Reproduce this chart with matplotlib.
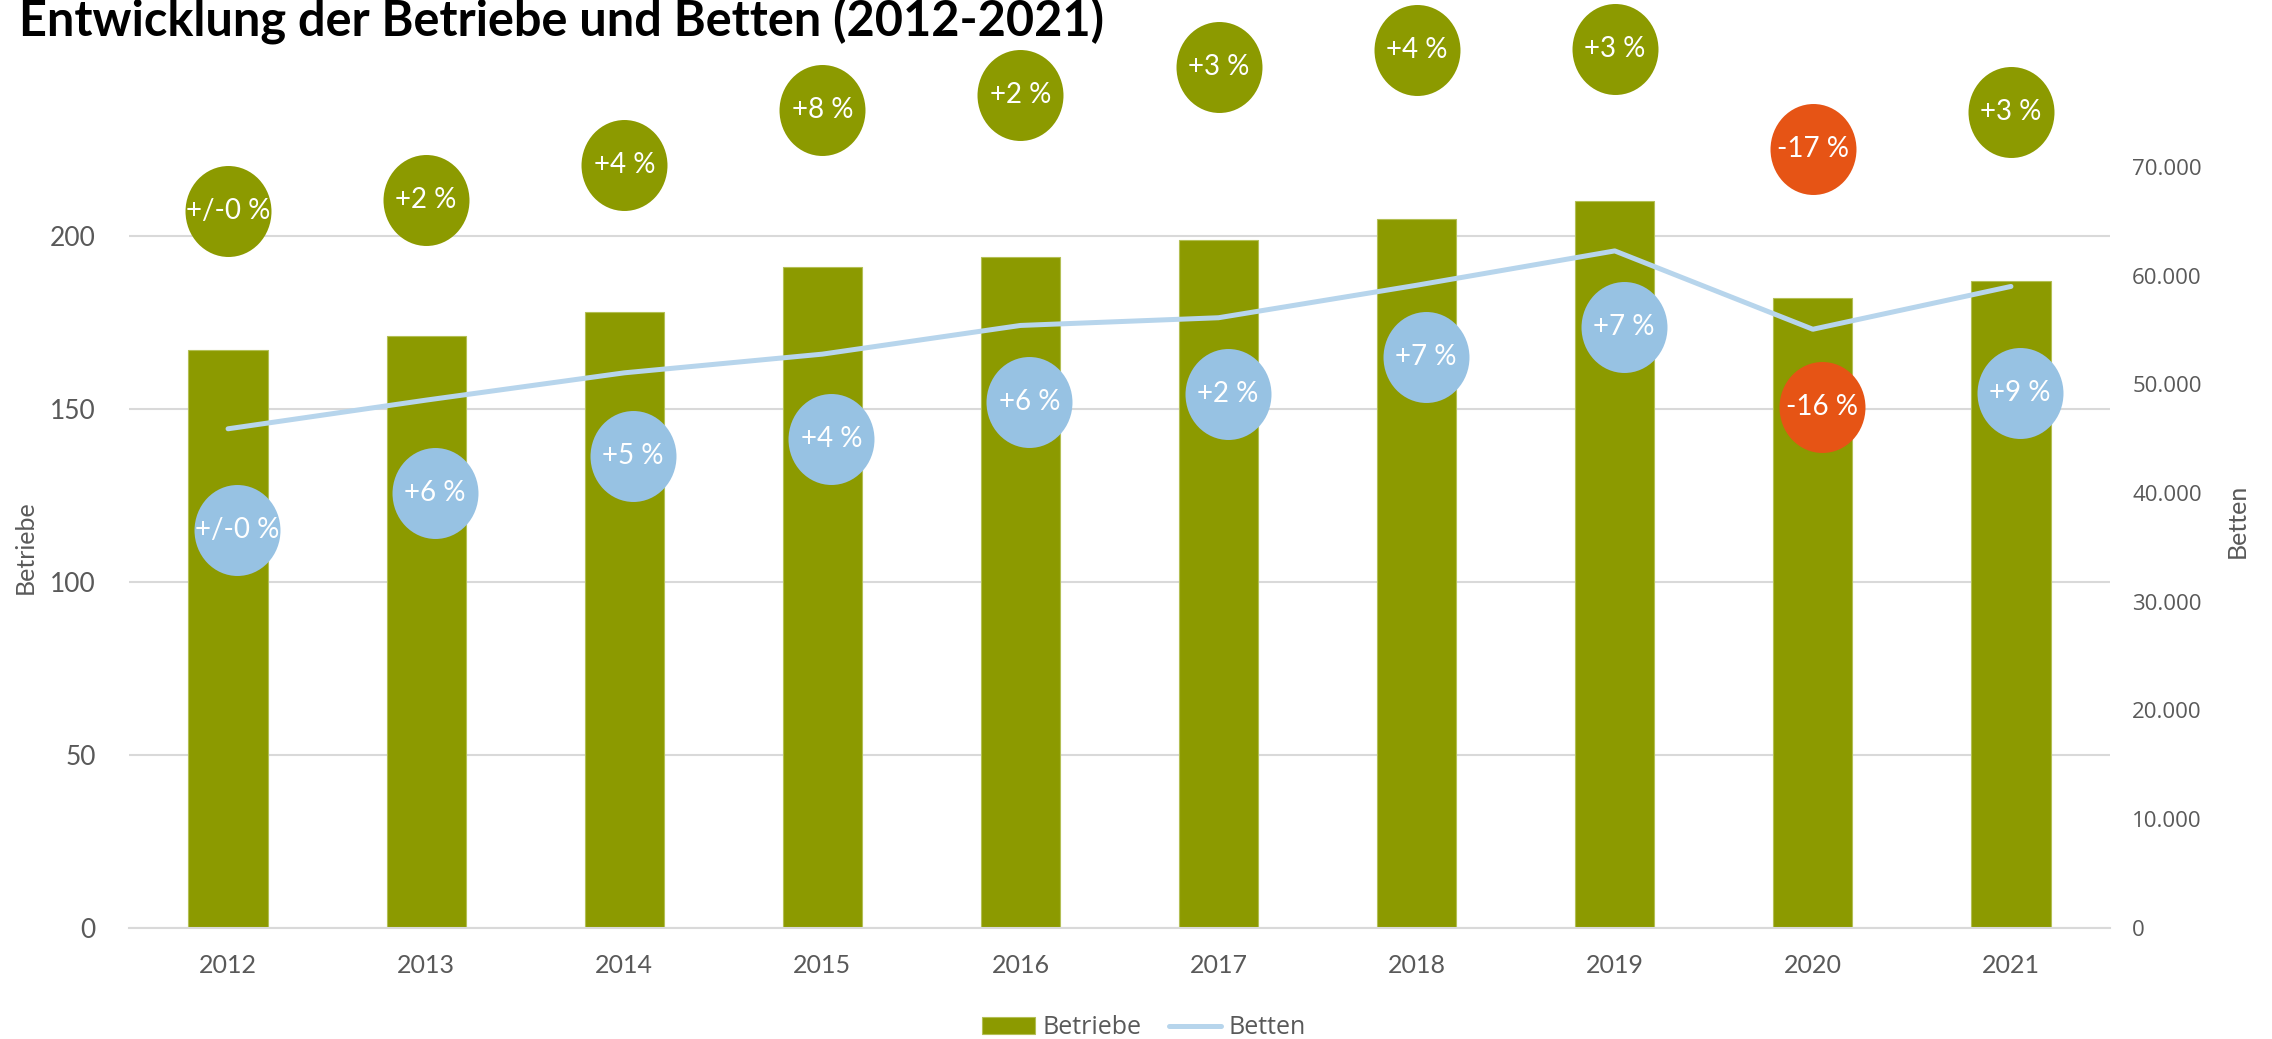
import matplotlib
matplotlib.use("Agg")
import matplotlib.pyplot as plt
import numpy as np
from matplotlib.path import Path
from matplotlib.transforms import offset_copy
from matplotlib.ticker import FuncFormatter

# data
years = ["2012", "2013", "2014", "2015", "2016", "2017", "2018", "2019", "2020", "2021"]
betriebe = [167, 171, 178, 191, 194, 199, 205, 210, 182, 187]
betten = [45900, 48540, 51050, 52770, 55410, 56120, 59110, 62270, 55060, 59000]
betriebe_pct = ["+/-0 %", "+2 %", "+4 %", "+8 %", "+2 %", "+3 %", "+4 %", "+3 %", "-17 %", "+3 %"]
betten_pct = ["+/-0 %", "+6 %", "+5 %", "+4 %", "+6 %", "+2 %", "+7 %", "+7 %", "-16 %", "+9 %"]

# label bubble offsets from their data point, in pixels
green_dy = [139, 136, 147, 157, 162, 173, 169, 152, 149, 169]
blue_dy = [-101, -93, -83, -85, -77, -76, -72, -76, -78, -107]

GREEN = "#8c9a00"
LINE_BLUE = "#b7d5ec"
BUBBLE_BLUE = "#97c2e3"
RED = "#e65415"
GREY = "#595959"
GRID = "#d9d9d9"

W, H = 2272, 1039
fig = plt.figure(figsize=(W / 100, H / 100), dpi=100)
ax = fig.add_axes([129 / W, 1 - 927.6 / H, (2110 - 129) / W, (927.6 - 166.9) / H])
ax2 = ax.twinx()

x = np.arange(len(years))
bars = ax.bar(x, betriebe, width=0.4, color=GREEN, edgecolor="#b3bf55", linewidth=0.8,
              label="Betriebe", zorder=2)
line, = ax2.plot(x, betten, color=LINE_BLUE, lw=3.6, solid_capstyle="round",
                 solid_joinstyle="round", label="Betten", zorder=3)

ax.set_xlim(-0.5, len(years) - 0.5)
ax.set_ylim(0, 220)
ax.set_yticks([0, 50, 100, 150, 200])
ax2.set_ylim(0, 70000)
ax2.set_yticks(np.arange(0, 70001, 10000))
ax2.yaxis.set_major_formatter(FuncFormatter(lambda v, p: f"{v:,.0f}".replace(",", ".")))

ax.set_xticks(x)
ax.set_xticklabels(years, family="Lato", fontsize=18, color=GREY)
for lab in ax.get_yticklabels():
    lab.set_family("Lato")
    lab.set_fontsize(19)
    lab.set_color(GREY)
for lab in ax2.get_yticklabels():
    lab.set_family("Open Sans")
    lab.set_fontsize(16)
    lab.set_color(GREY)
ax.tick_params(axis="x", length=0, pad=19)
ax.tick_params(axis="y", length=0, pad=24)
ax2.tick_params(axis="y", length=0, pad=16)

ax.grid(axis="y", color=GRID, lw=1.5)
ax.set_axisbelow(True)
for a in (ax, ax2):
    for s in a.spines.values():
        s.set_visible(False)
ax.spines["bottom"].set_visible(True)
ax.spines["bottom"].set_color(GRID)
ax.spines["bottom"].set_linewidth(1.5)

fig.text(25.5 / W, 1 - 547.5 / H, "Betriebe", rotation=90, ha="center", va="center",
         family="Lato", fontsize=18, color=GREY)
fig.text(2237 / W, 1 - 521 / H, "Betten", rotation=90, ha="center", va="center",
         family="Lato", fontsize=18, color=GREY)

fig.text(19 / W, 1 - 36 / H, "Entwicklung der Betriebe und Betten (2012-2021)",
         ha="left", va="baseline", family="Lato", fontweight="bold", fontsize=35, color="black")

# ellipse marker for the percentage bubbles
circ = Path.unit_circle()
ell = Path(circ.vertices * np.array([86 / 91, 1.0]), circ.codes)


def bubble(a, xi, yi, dx, dy, text, color):
    tr = offset_copy(a.transData, fig=fig, x=dx, y=dy, units="dots")
    a.plot([xi], [yi], marker=ell, markersize=65.5, color=color, markeredgewidth=0,
           linestyle="none", transform=tr, clip_on=False, zorder=6)
    a.text(xi, yi, text, transform=tr, ha="center", va="center", family="Lato",
           fontsize=20, color="white", zorder=7, clip_on=False)


for i in range(len(years)):
    c = RED if betriebe_pct[i].startswith("-") else GREEN
    bubble(ax, x[i], betriebe[i], 0, green_dy[i], betriebe_pct[i], c)
    c = RED if betten_pct[i].startswith("-") else BUBBLE_BLUE
    bubble(ax2, x[i], betten[i], 9, blue_dy[i], betten_pct[i], c)

fig.legend([bars, line], ["Betriebe", "Betten"], loc="center",
           bbox_to_anchor=(1144 / W, 1 - 1028 / H), ncol=2, frameon=False,
           prop={"family": "Open Sans", "size": 18}, labelcolor=GREY,
           handlelength=2.1, handleheight=0.65, handletextpad=0.3, columnspacing=1.1)

fig.savefig("out.png", dpi=100)
